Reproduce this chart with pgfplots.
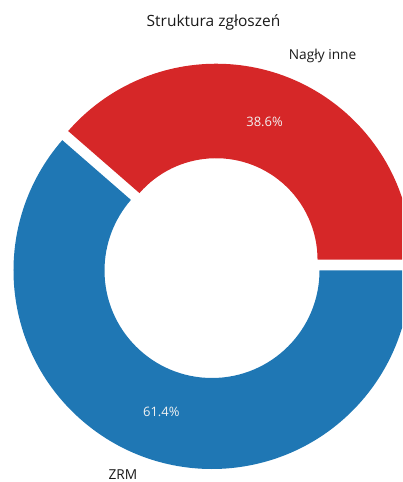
\documentclass[border=0pt]{standalone}
\usepackage{pgfplots}
\pgfplotsset{compat=1.18}
\usepackage{pgfplotstable}
\usepackage{fontspec}
\setmainfont{Open Sans}
\usetikzlibrary{calc}
\definecolor{tabred}{HTML}{D62728}
\definecolor{tabblue}{HTML}{1F77B4}
\definecolor{lbl}{HTML}{1A1A1A}
\definecolor{pct}{HTML}{F2F2F2}

\pgfplotstableread[col sep=comma]{
label,value
Nagły inne,38.6
ZRM,61.4
}\piedata
\pgfplotstablegetelem{0}{value}\of\piedata \pgfmathsetmacro\va{\pgfplotsretval}
\pgfplotstablegetelem{1}{value}\of\piedata \pgfmathsetmacro\vb{\pgfplotsretval}
\pgfmathsetmacro\tot{\va+\vb}
\pgfmathsetmacro\aA{360*\va/\tot}
\pgfmathsetmacro\mA{\aA/2}
\pgfmathsetmacro\mB{(\aA+360)/2}
% geometry (1pt = 1px)
\def\cx{212}\def\cy{211.5}
\def\Rb{198.5}\def\rb{107.5}
\def\Rr{196}\def\rr{101.5}
\def\ex{11.5}
\pgfmathsetmacro\rcx{\cx+\ex*cos(\mA)}
\pgfmathsetmacro\rcy{\cy+\ex*sin(\mA)}
\pgfmathsetmacro\pctA{\va}
\pgfmathsetmacro\pctB{\vb}
\pgfkeys{/pgf/number format/assume math mode=true}

\begin{document}
\begin{tikzpicture}
\useasboundingbox (0,0) rectangle (402pt,482pt);
\clip (0,0) rectangle (402pt,482pt);
\begin{axis}[at={(0,0)},anchor=south west,
  width=402pt,height=482pt,scale only axis,
  xmin=0,xmax=402,ymin=0,ymax=482,
  hide axis,clip=true]
% blue wedge (ZRM)
\fill[tabblue] ($(axis cs:\cx,\cy)+(\aA:\Rb pt)$)
  arc[start angle=\aA,end angle=360,radius=\Rb pt]
  -- ($(axis cs:\cx,\cy)+(360:\rb pt)$)
  arc[start angle=360,end angle=\aA,radius=\rb pt] -- cycle;
% red wedge (Nagly inne), exploded
\fill[tabred] ($(axis cs:\rcx,\rcy)+(0:\Rr pt)$)
  arc[start angle=0,end angle=\aA,radius=\Rr pt]
  -- ($(axis cs:\rcx,\rcy)+(\aA:\rr pt)$)
  arc[start angle=\aA,end angle=0,radius=\rr pt] -- cycle;
% labels
\node[anchor=west,inner sep=0pt,text=lbl,font=\fontsize{13.7}{15}\selectfont]
  at ($(axis cs:\rcx,\rcy)+(\mA:1.1*\Rr pt)+(-3pt,2pt)$) {Nagły inne};
\node[anchor=east,inner sep=0pt,text=lbl,font=\fontsize{13.7}{15}\selectfont]
  at ($(axis cs:\cx,\cy)+(\mB:1.1*\Rb pt)+(2pt,0pt)$) {ZRM};
\node[inner sep=0pt,text=pct,font=\fontsize{13}{15}\selectfont]
  at ($(axis cs:\rcx,\rcy)+(\mA:0.75*\Rr pt)+(-3pt,0pt)$) {\pgfmathprintnumber[fixed,precision=1,fixed zerofill,assume math mode=true]{\pctA}\%};
\node[inner sep=0pt,text=pct,font=\fontsize{13}{15}\selectfont]
  at ($(axis cs:\cx,\cy)+(\mB:0.75*\Rb pt)+(1.5pt,-2pt)$) {\pgfmathprintnumber[fixed,precision=1,fixed zerofill,assume math mode=true]{\pctB}\%};
% title
\node[anchor=base,inner sep=0pt,text=lbl,font=\fontsize{15.5}{17}\selectfont]
  at (axis cs:213.5,455) {Struktura zgłoszeń};
\end{axis}
\end{tikzpicture}
\end{document}
